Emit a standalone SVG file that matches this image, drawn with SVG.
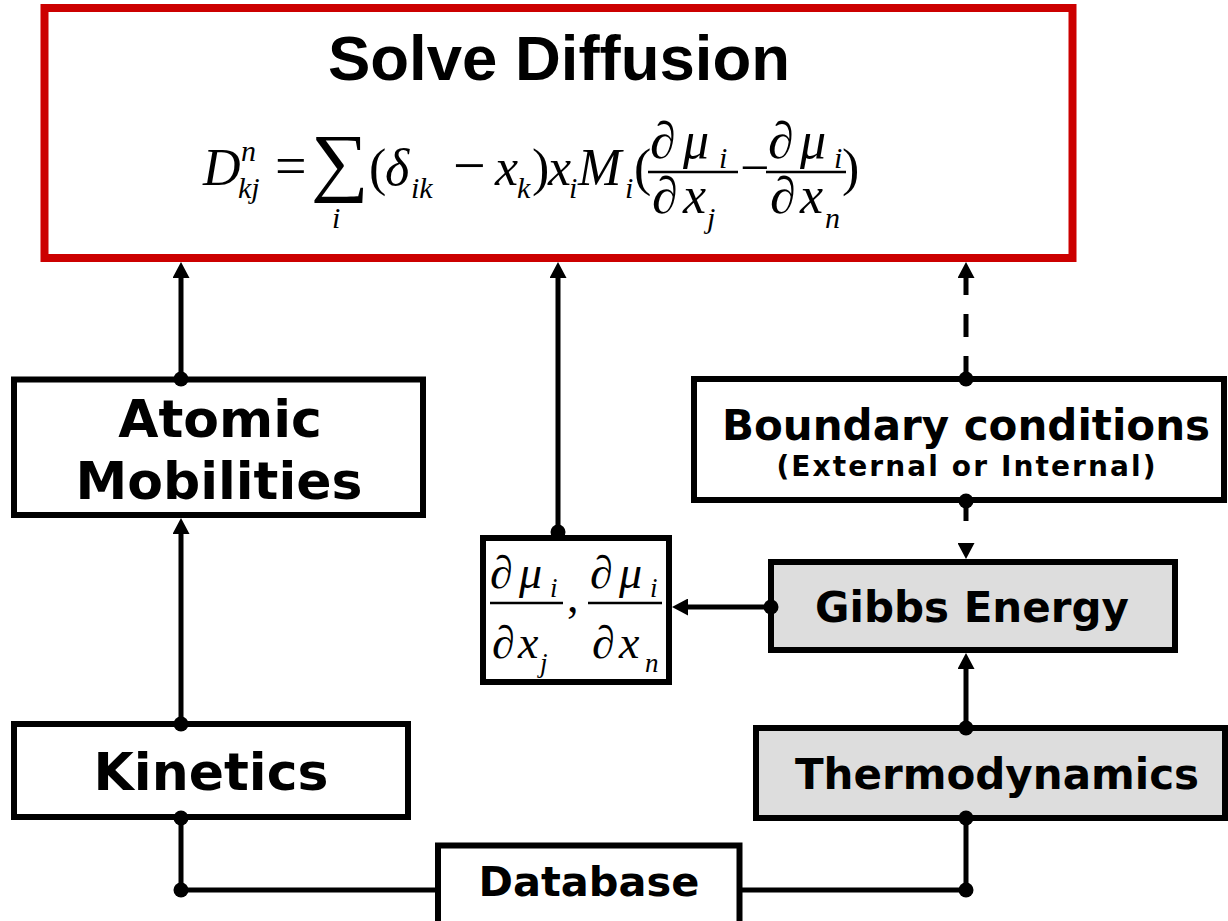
<svg xmlns="http://www.w3.org/2000/svg" width="1228" height="921" viewBox="0 0 1228 921">
<style>
.box{fill:#ffffff;stroke:#000;stroke-width:6}
.gray{fill:#dddddd;stroke:#000;stroke-width:6}
.red{fill:#ffffff;stroke:#cc0000;stroke-width:8}
.lbl{font-family:"DejaVu Sans",Verdana,sans-serif;font-weight:bold;fill:#000;text-anchor:middle}
.title{font-family:"Liberation Sans",Arial,sans-serif;font-weight:bold;fill:#000;text-anchor:middle}
.m{font-family:"Liberation Serif","Times New Roman",serif;fill:#000}
.it{font-style:italic}
.bar{stroke:#000;stroke-width:2.5}
.conn{fill:none;stroke:#000;stroke-width:5}
.dash{stroke-dasharray:23 19}
.dot{fill:#000}
</style>
<defs>
<marker id="arrow" markerUnits="userSpaceOnUse" viewBox="0 0 16 17" refX="4" refY="8.5" markerWidth="16" markerHeight="17" orient="auto">
<path d="M0,0 L16,8.5 L0,17 z" fill="#000"/>
</marker>
</defs>

<g id="solve-diffusion">
<rect class="red" x="44.5" y="8" width="1028" height="250"/>
<text class="title" x="559" y="80" font-size="63.5">Solve Diffusion</text>
<g class="m" font-size="52">
<text class="it" x="203" y="185">D</text>
<text class="it" x="241" y="161" font-size="30">n</text>
<text class="it" x="238" y="198" font-size="30">kj</text>
<text x="275" y="185" font-size="56">=</text>
<text transform="translate(311,187) scale(1.07,1)" font-size="76">∑</text>
<text class="it" x="332" y="228" font-size="30">i</text>
<text x="369" y="185">(</text>
<text class="it" x="385" y="185">δ</text>
<text class="it" x="411" y="198" font-size="30">ik</text>
<text x="453" y="185" font-size="58">−</text>
<text class="it" x="495" y="185">x</text>
<text class="it" x="517" y="198" font-size="30">k</text>
<text x="532" y="185">)</text>
<text class="it" x="548" y="185">x</text>
<text class="it" x="569" y="198" font-size="30">i</text>
<text class="it" x="578" y="185">M</text>
<text class="it" x="625" y="198" font-size="30">i</text>
<text x="634" y="185">(</text>
<text x="650" y="158">∂</text>
<text class="it" x="683" y="158">μ</text>
<text class="it" x="719" y="168" font-size="30">i</text>
<line class="bar" x1="648" y1="172" x2="738" y2="172"/>
<text x="652" y="213">∂</text>
<text class="it" x="683" y="213">x</text>
<text class="it" x="707" y="228" font-size="30">j</text>
<text x="740" y="185">−</text>
<text x="768" y="158">∂</text>
<text class="it" x="800" y="158">μ</text>
<text class="it" x="834" y="168" font-size="30">i</text>
<line class="bar" x1="766" y1="172" x2="846" y2="172"/>
<text x="770" y="213">∂</text>
<text class="it" x="800" y="213">x</text>
<text class="it" x="825" y="228" font-size="30">n</text>
<text x="842" y="185">)</text>
</g>
</g>

<g id="atomic-mobilities">
<rect class="box" x="14" y="379.5" width="409" height="135.5"/>
<text class="lbl" x="220" y="437" font-size="52">Atomic</text>
<text class="lbl" x="219" y="499" font-size="52">Mobilities</text>
</g>

<g id="boundary-conditions">
<rect class="box" x="694" y="379" width="530" height="121"/>
<text class="lbl" x="966" y="440" font-size="42">Boundary conditions</text>
<text class="lbl" x="967" y="476" font-size="28" letter-spacing="2.1">(External or Internal)</text>
</g>

<g id="chem-potential-derivatives">
<rect class="box" x="483" y="538" width="186" height="144"/>
<g class="m" font-size="46">
<text x="490" y="588">∂</text>
<text class="it" x="519" y="588">μ</text>
<text class="it" x="550" y="597" font-size="27">i</text>
<line class="bar" x1="490" y1="603" x2="563" y2="603"/>
<text x="492" y="658">∂</text>
<text class="it" x="518" y="658">x</text>
<text class="it" x="540" y="672" font-size="27">j</text>
<text x="567" y="612">,</text>
<text x="590" y="588">∂</text>
<text class="it" x="619" y="588">μ</text>
<text class="it" x="650" y="597" font-size="27">i</text>
<line class="bar" x1="588" y1="603" x2="662" y2="603"/>
<text x="592" y="658">∂</text>
<text class="it" x="619" y="658">x</text>
<text class="it" x="645" y="672" font-size="27">n</text>
</g>
</g>

<g id="gibbs-energy">
<rect class="gray" x="771" y="562" width="404" height="88"/>
<text class="lbl" x="972" y="622" font-size="42">Gibbs Energy</text>
</g>

<g id="kinetics">
<rect class="box" x="14" y="724" width="394" height="93"/>
<text class="lbl" x="211" y="790" font-size="52">Kinetics</text>
</g>

<g id="thermodynamics">
<rect class="gray" x="756" y="728" width="469" height="90"/>
<text class="lbl" x="997" y="789" font-size="42">Thermodynamics</text>
</g>

<g id="database">
<rect class="box" x="438" y="845.5" width="301.5" height="100"/>
<text class="lbl" x="589" y="896" font-size="41.5">Database</text>
</g>

<g id="connectors">
<path class="conn" d="M181,379 L181,274" marker-end="url(#arrow)"/>
<path class="conn" d="M181,724 L181,530" marker-end="url(#arrow)"/>
<path class="conn" d="M558,532 L558,274" marker-end="url(#arrow)"/>
<path class="conn dash" d="M966,379 L966,274" marker-end="url(#arrow)"/>
<path class="conn" d="M966,501 L966,547" style="stroke-dasharray:20 30" marker-end="url(#arrow)"/>
<path class="conn" d="M771,607 L684,607" marker-end="url(#arrow)"/>
<path class="conn" d="M966,728 L966,665" marker-end="url(#arrow)"/>
<path class="conn" d="M181,818 L181,890 L438,890"/>
<path class="conn" d="M739,890 L966,890 L966,818"/>
<circle class="dot" cx="181" cy="379" r="7.5"/>
<circle class="dot" cx="181" cy="724" r="7.5"/>
<circle class="dot" cx="558" cy="532" r="7.5"/>
<circle class="dot" cx="966" cy="379" r="7.5"/>
<circle class="dot" cx="966" cy="501" r="7.5"/>
<circle class="dot" cx="771" cy="607" r="7.5"/>
<circle class="dot" cx="966" cy="728" r="7.5"/>
<circle class="dot" cx="181" cy="818" r="7.5"/>
<circle class="dot" cx="181" cy="890" r="7.5"/>
<circle class="dot" cx="966" cy="890" r="7.5"/>
<circle class="dot" cx="966" cy="818" r="7.5"/>
</g>
</svg>
